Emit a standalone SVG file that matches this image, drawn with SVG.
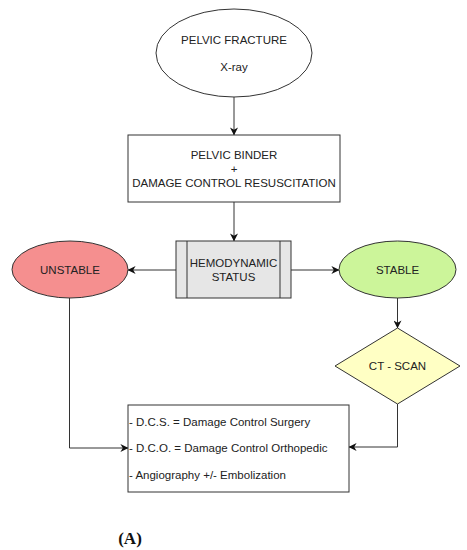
<svg xmlns="http://www.w3.org/2000/svg" width="467" height="550" viewBox="0 0 467 550">
<defs>
<style>
.sh{stroke:#333;stroke-width:1}
.t{font-family:"Liberation Sans",Arial,sans-serif;font-size:11.5px;fill:#222;text-anchor:middle}
.tl{font-family:"Liberation Sans",Arial,sans-serif;font-size:11.5px;fill:#222}
.c{fill:none;stroke:#333;stroke-width:1}
</style>
<marker id="ah" viewBox="0 0 10 10" refX="9.5" refY="5" markerWidth="8" markerHeight="8" orient="auto" markerUnits="userSpaceOnUse">
<path d="M0,0 L10,5 L0,10 L3,5 Z" fill="#111"/>
</marker>
</defs>
<rect width="467" height="550" fill="#fff"/>
<g id="connectors">
<line class="c" x1="234" y1="97" x2="234" y2="135" marker-end="url(#ah)"/>
<line class="c" x1="234" y1="202" x2="234" y2="241" marker-end="url(#ah)"/>
<line class="c" x1="176" y1="270" x2="128" y2="270" marker-end="url(#ah)"/>
<line class="c" x1="291" y1="270" x2="339" y2="270" marker-end="url(#ah)"/>
<line class="c" x1="397.5" y1="298" x2="397.5" y2="328" marker-end="url(#ah)"/>
<polyline class="c" points="69.5,298 69.5,448 128,448" marker-end="url(#ah)"/>
<polyline class="c" points="397.5,404 397.5,447 349,447" marker-end="url(#ah)"/>
</g>
<g id="pelvic-fracture">
<ellipse class="sh" cx="234" cy="53" rx="78" ry="44" fill="#fff"/>
<text class="t" x="234" y="44">PELVIC FRACTURE</text>
<text class="t" x="234" y="71">X-ray</text>
</g>
<g id="binder">
<rect class="sh" x="128" y="135" width="212" height="67" fill="#fff"/>
<text class="t" x="234" y="159">PELVIC BINDER</text>
<text class="t" x="234" y="173">+</text>
<text class="t" x="234" y="187">DAMAGE CONTROL RESUSCITATION</text>
</g>
<g id="hemodynamic">
<rect class="sh" x="176" y="241" width="115" height="57" fill="#e6e6e6"/>
<line class="sh" x1="187" y1="241" x2="187" y2="298"/>
<line class="sh" x1="280" y1="241" x2="280" y2="298"/>
<text class="t" x="233.5" y="267">HEMODYNAMIC</text>
<text class="t" x="233.5" y="281">STATUS</text>
</g>
<g id="unstable">
<ellipse class="sh" cx="70" cy="269.5" rx="58" ry="28.5" fill="#f58f8f"/>
<text class="t" x="70" y="273.5">UNSTABLE</text>
</g>
<g id="stable">
<ellipse class="sh" cx="397.5" cy="269.5" rx="58.5" ry="28.5" fill="#ccf59a"/>
<text class="t" x="397.5" y="273.5">STABLE</text>
</g>
<g id="ct-scan">
<polygon class="sh" points="397.5,328 460,366 397.5,404 335,366" fill="#ffffc4"/>
<text class="t" x="397.5" y="370">CT - SCAN</text>
</g>
<g id="treatment">
<rect class="sh" x="128" y="405" width="221" height="87" fill="#fff"/>
<text class="tl" x="129" y="426">- D.C.S. = Damage Control Surgery</text>
<text class="tl" x="129" y="452">- D.C.O. = Damage Control Orthopedic</text>
<text class="tl" x="129" y="479">- Angiography +/- Embolization</text>
</g>
<text x="130" y="544" font-family="'Liberation Serif','Times New Roman',serif" font-size="17" font-weight="bold" text-anchor="middle" fill="#111">(A)</text>
</svg>
